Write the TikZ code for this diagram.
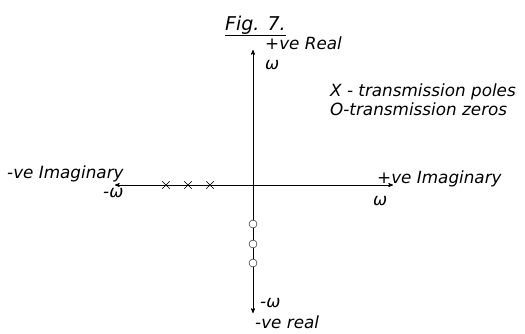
\documentclass[tikz,border=0pt]{standalone}
\usepackage{fontspec}
\setmainfont{DejaVu Sans}
\usepackage{tkz-euclide}
\usetikzlibrary{arrows,calc}
\tikzset{hand/.style={anchor=base west,inner sep=0pt,font=\itshape\fontsize{16.8}{18}\selectfont}}

\begin{document}
\begin{tikzpicture}[x=10pt,y=10pt]
\useasboundingbox (-25.3,18.5) rectangle (27.2,-14.8);
\tkzSetUpLine[line width=0.7pt,color=black]

\tkzDefPoints{0/0/O,-13.8/0/L,14/0/R,0/13.5/T,0/-12.8/B}
% poles and zeros
\tkzDefPoints{-8.7/0/P1,-6.5/0/P2,-4.3/0/P3,0/-3.9/Z1,0/-5.9/Z2,0/-7.8/Z3}
% where the texts sit
\tkzDefPoints{-2.8/15.5/F,1.2/13.6/T1,1.2/11.6/T2,7.7/8.9/K1,7.7/7/K2}
\tkzDefPoints{-24.6/0.7/L1,-15/-1.2/L2,12.4/0.2/R1,12/-2/R2,0.7/-12.2/B1,0.2/-14.3/B2}

\tkzDrawSegments[>=stealth',<->](L,R B,T)

\tkzDrawPoints[shape=cross out,size=7,color=black](P1,P2,P3)
\tkzDrawPoints[size=8,color=black,fill=white](Z1,Z2,Z3)

\tkzLabelPoint[hand,font=\itshape\fontsize{19}{21}\selectfont](F){\underline{Fig. 7.}}
\tkzLabelPoint[hand](T1){+ve Real}
\tkzLabelPoint[hand](T2){ω}
\tkzLabelPoint[hand](K1){X - transmission poles}
\tkzLabelPoint[hand](K2){O-transmission zeros}
\tkzLabelPoint[hand](L1){-ve Imaginary}
\tkzLabelPoint[hand](L2){-ω}
\tkzLabelPoint[hand](R1){+ve Imaginary}
\tkzLabelPoint[hand](R2){ω}
\tkzLabelPoint[hand](B1){-ω}
\tkzLabelPoint[hand](B2){-ve real}

\end{tikzpicture}
\end{document}
